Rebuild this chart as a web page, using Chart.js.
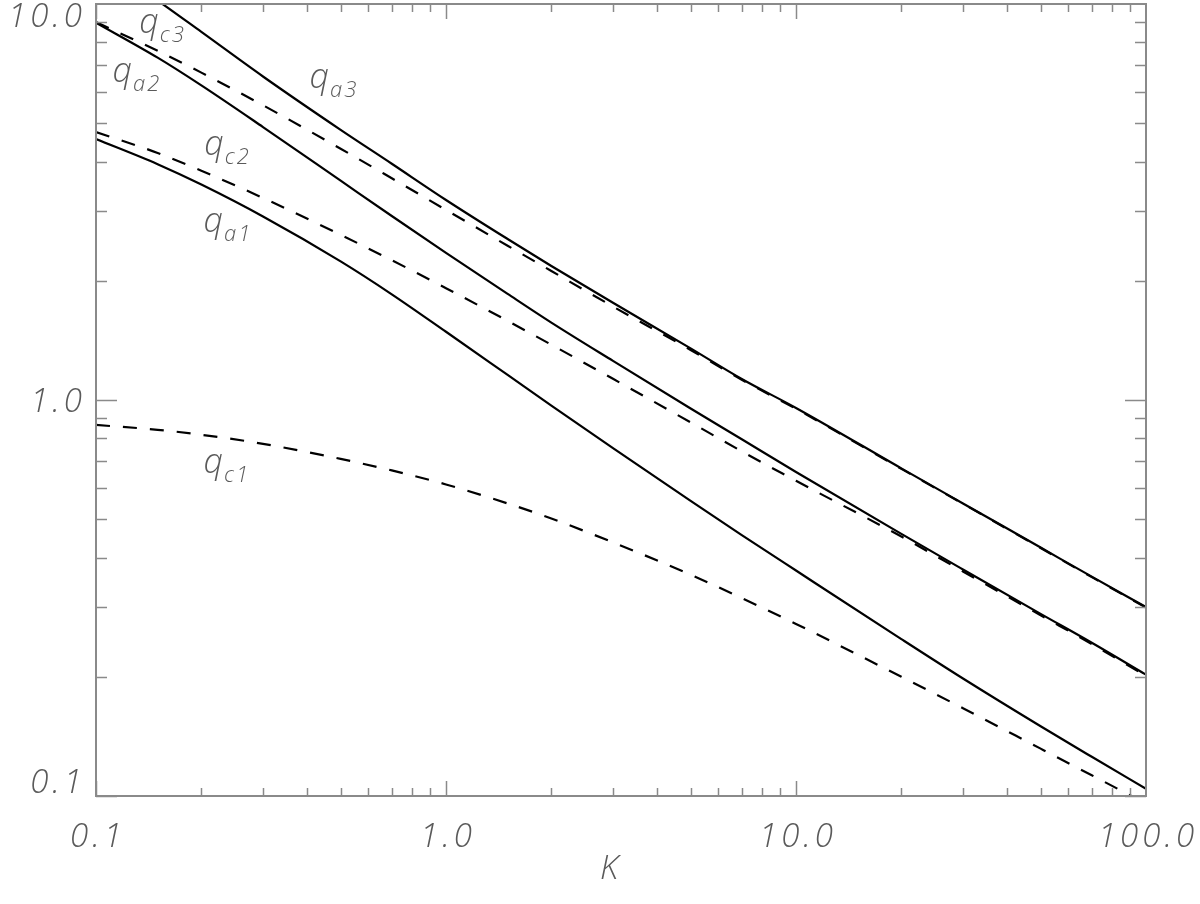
<!DOCTYPE html>
<html>
<head>
<meta charset="utf-8">
<script src="https://cdn.jsdelivr.net/npm/chart.js@4/dist/chart.umd.min.js"></script>
<style>
    html, body { margin: 0; padding: 0; background: #fff; }
    #chart { display: block; }
</style>
</head>
<body>
<canvas id="chart" width="1200" height="904"></canvas>
<script>
// values (K on x, q on y, both log)
const kValues = [0.1, 0.15, 0.2, 0.3, 0.5, 0.7, 1, 1.5, 2, 3, 5, 7, 10, 20, 30, 50, 70, 100];

const qa1 = [4.56, 3.94, 3.50, 2.907, 2.239, 1.849, 1.487, 1.157, 0.968, 0.756, 0.556, 0.456, 0.371, 0.249, 0.198, 0.150, 0.1256, 0.1043];
const qa2 = [8.97, 7.32, 6.23, 4.89, 3.58, 2.915, 2.353, 1.853, 1.568, 1.255, 0.952, 0.796, 0.658, 0.459, 0.3733, 0.2884, 0.2438, 0.2025];
const qa3 = [13.0, 10.2, 8.50, 6.56, 4.81, 3.95, 3.20, 2.55, 2.18, 1.76, 1.35, 1.13, 0.955, 0.672, 0.548, 0.424, 0.358, 0.300];
const qc1 = [0.865, 0.841, 0.817, 0.775, 0.710, 0.664, 0.612, 0.548, 0.502, 0.437, 0.362, 0.316, 0.272, 0.200, 0.1666, 0.1317, 0.1128, 0.0957];
const qc2 = [4.75, 4.206, 3.793, 3.238, 2.613, 2.254, 1.916, 1.584, 1.379, 1.131, 0.878, 0.742, 0.625, 0.452, 0.369, 0.286, 0.242, 0.201];
const qc3 = [9.0, 7.62, 6.71, 5.55, 4.31, 3.63, 3.02, 2.452, 2.117, 1.722, 1.338, 1.125, 0.950, 0.670, 0.547, 0.423, 0.357, 0.299];

const xTickValues = [0.1, 1, 10, 100];
const xTickLabels = ['0.1', '1.0', '10.0', '100.0'];
const yTickValues = [0.1, 1, 10];
const yTickLabels = ['0.1', '1.0', '10.0'];

// curve names: [K, q] of the label baseline, subscript
const curveLabels = [
    { k: 0.133, q: 8.45, sub: 'c3' },
    { k: 0.1115, q: 6.35, sub: 'a2' },
    { k: 0.4074, q: 6.14, sub: 'a3' },
    { k: 0.204, q: 4.16, sub: 'c2' },
    { k: 0.203, q: 2.66, sub: 'a1' },
    { k: 0.203, q: 0.654, sub: 'c1' }
];

const FONT = '"Open Sans", "Liberation Sans", sans-serif';
const TEXT_COLOR = '#5a5a5a';

function series(values, dashed) {
    return {
        data: kValues.map((k, i) => ({ x: k, y: values[i] })),
        borderColor: '#000',
        borderWidth: 2.2,
        borderDash: dashed ? [14, 13] : [],
        pointRadius: 0,
        cubicInterpolationMode: 'monotone',
        fill: false
    };
}

const framePlugin = {
    id: 'frame',
    afterDatasetsDraw(chart) {
        const { ctx, chartArea: a, scales: { x, y } } = chart;
        ctx.save();
        ctx.strokeStyle = '#8a8a8a';
        ctx.lineWidth = 1.5;

        // x ticks, bottom and top, pointing inward
        for (let d = 0.1; d < 100; d *= 10) {
            for (let m = 1; m <= 9; m++) {
                const px = Math.round(x.getPixelForValue(m * d)) + 0.5;
                const len = m === 1 ? 15 : 8;
                ctx.beginPath();
                ctx.moveTo(px, a.bottom); ctx.lineTo(px, a.bottom - len);
                ctx.moveTo(px, a.top); ctx.lineTo(px, a.top + len);
                ctx.stroke();
            }
        }
        // y ticks, left and right
        for (let d = 0.1; d < 10; d *= 10) {
            for (let m = 1; m <= 9; m++) {
                const py = Math.round(y.getPixelForValue(m * d)) + 0.5;
                const len = m === 1 ? 21 : 11;
                ctx.beginPath();
                ctx.moveTo(a.left, py); ctx.lineTo(a.left + len, py);
                ctx.moveTo(a.right, py); ctx.lineTo(a.right - len, py);
                ctx.stroke();
            }
        }

        ctx.lineWidth = 2;
        ctx.strokeRect(a.left, a.top, a.right - a.left, a.bottom - a.top);
        ctx.restore();
    },
    afterDraw(chart) {
        const { ctx, chartArea: a, scales: { x, y } } = chart;
        ctx.save();
        ctx.fillStyle = TEXT_COLOR;
        ctx.font = 'italic 300 33px ' + FONT;
        ctx.letterSpacing = '4px';

        // y tick labels
        ctx.textAlign = 'right';
        ctx.textBaseline = 'middle';
        yTickValues.forEach((v, i) => {
            let py = y.getPixelForValue(v) + 3;
            py = Math.min(Math.max(py, a.top + 14), a.bottom - 12);
            ctx.fillText(yTickLabels[i], a.left - 10, py);
        });

        // x tick labels
        ctx.textAlign = 'center';
        xTickValues.forEach((v, i) => {
            ctx.fillText(xTickLabels[i], x.getPixelForValue(v) + 2, a.bottom + 42);
        });

        // axis title
        ctx.fillText('K', (a.left + a.right) / 2 - 10, a.bottom + 74);

        // curve names
        ctx.textAlign = 'left';
        ctx.textBaseline = 'alphabetic';
        ctx.letterSpacing = '0px';
        curveLabels.forEach(l => {
            const px = x.getPixelForValue(l.k);
            const py = y.getPixelForValue(l.q);
            ctx.font = 'italic 300 34px ' + FONT;
            ctx.fillText('q', px, py);
            const w = ctx.measureText('q').width;
            ctx.font = 'italic 300 22px ' + FONT;
            ctx.letterSpacing = '2px';
            ctx.fillText(l.sub, px + w + 1, py + 9);
            ctx.letterSpacing = '0px';
        });
        ctx.restore();
    }
};

const chart = new Chart(document.getElementById('chart').getContext('2d'), {
    type: 'line',
    data: {
        datasets: [
            series(qa1, false),
            series(qa2, false),
            series(qa3, false),
            series(qc1, true),
            series(qc2, true),
            series(qc3, true)
        ]
    },
    options: {
        responsive: false,
        animation: false,
        devicePixelRatio: 1,
        layout: { padding: { left: 96, right: 54, top: 4, bottom: 108 } },
        plugins: {
            legend: { display: false },
            tooltip: { enabled: false }
        },
        scales: {
            x: { type: 'logarithmic', min: 0.1, max: 100, display: false },
            y: { type: 'logarithmic', min: 0.1, max: 10, display: false }
        }
    },
    plugins: [framePlugin]
});
</script>
</body>
</html>
